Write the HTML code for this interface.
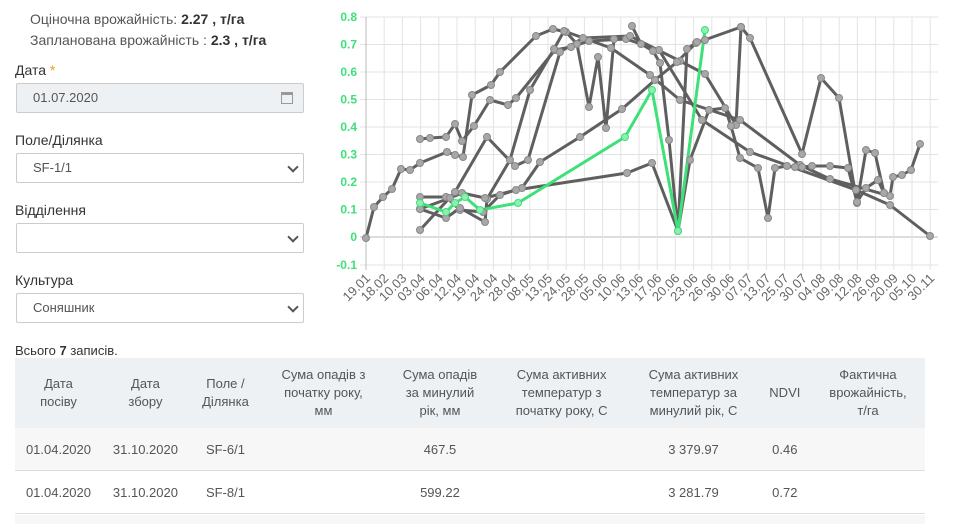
<!DOCTYPE html>
<html><head><meta charset="utf-8"><style>
html,body{margin:0;width:960px;height:524px;overflow:hidden;background:#fff;font-family:"Liberation Sans","DejaVu Sans",sans-serif;color:#333;position:relative}
.a{position:absolute;white-space:nowrap}
.inp{position:absolute;left:16px;width:288px;height:30px;border:1px solid #ccc;border-radius:2px;box-sizing:border-box;font-size:13px;color:#555;line-height:28px;padding-left:16px;background:#fff}
.lbl{font-size:14px;color:#333}
.chev{position:absolute;right:6px;top:9px;width:6px;height:6px;border-right:2px solid #555;border-bottom:2px solid #555;transform:rotate(45deg)}
table{position:absolute;left:15px;top:358px;width:910px;border-collapse:collapse;font-size:13px;color:#555}
th{background:#edf1f4;font-weight:normal;height:70px;text-align:center;padding:0 4px;line-height:18px}
td{height:42px;padding:0;text-align:center;border-bottom:1px solid #ddd}
tr.r1 td{background:#f7f7f7}
</style></head><body>
<div class="a" style="left:30px;top:11px;font-size:14px;color:#555">Оціночна врожайність: <b style="color:#333">2.27 , т/га</b></div>
<div class="a" style="left:30px;top:32px;font-size:14px;color:#555">Запланована врожайність : <b style="color:#333">2.3 , т/га</b></div>
<div class="a lbl" style="left:15px;top:62px">Дата<span style="color:#f39c12"> *</span></div>
<div class="inp" style="top:83px;background:#eef1f3">01.07.2020<span style="position:absolute;right:10px;top:8px;width:12px;height:12px;border:1px solid #999;border-top:3px solid #999;box-sizing:border-box"></span></div>
<div class="a lbl" style="left:15px;top:132px">Поле/Ділянка</div>
<div class="inp" style="top:153px">SF-1/1<span class="chev"></span></div>
<div class="a lbl" style="left:15px;top:202px">Відділення</div>
<div class="inp" style="top:223px"><span class="chev"></span></div>
<div class="a lbl" style="left:15px;top:272px">Культура</div>
<div class="inp" style="top:293px">Соняшник<span class="chev"></span></div>
<div class="a" style="left:15px;top:343px;font-size:13px">Всього <b>7</b> записів.</div>

<svg class="a" style="left:0;top:0" width="960" height="340" viewBox="0 0 960 340">
<g stroke="#e3e3e3" stroke-width="1">
<line x1="360" y1="17" x2="938" y2="17"/><line x1="360" y1="44.5" x2="938" y2="44.5"/><line x1="360" y1="72" x2="938" y2="72"/><line x1="360" y1="99.5" x2="938" y2="99.5"/><line x1="360" y1="127" x2="938" y2="127"/><line x1="360" y1="154.5" x2="938" y2="154.5"/><line x1="360" y1="182" x2="938" y2="182"/><line x1="360" y1="209.5" x2="938" y2="209.5"/><line x1="360" y1="265" x2="938" y2="265"/>
</g>
<line x1="360" y1="237" x2="938" y2="237" stroke="#bbb"/>
<g id="vg" stroke="#e3e3e3"></g>
<line x1="366" y1="17" x2="366" y2="270" stroke="#bbb"/>
<g fill="#3ee07a" font-size="12" font-weight="bold" text-anchor="end">
<text x="357" y="21">0.8</text><text x="357" y="48.5">0.7</text><text x="357" y="76">0.6</text><text x="357" y="103.5">0.5</text><text x="357" y="131">0.4</text><text x="357" y="158.5">0.3</text><text x="357" y="186">0.2</text><text x="357" y="213.5">0.1</text><text x="357" y="241">0</text><text x="357" y="269">-0.1</text>
</g>
<g id="xl" fill="#666" font-size="13" text-anchor="end"></g>
<g fill="none" stroke="#5f5f5f" stroke-width="3" stroke-linejoin="round">
<polyline points="366,238 374,207 383,197 392,189 401,169 410,170 420,163 447,152 455,155 463,157 472,95 491,85 500,72 536,36 553,29 566,32 577,44 589,107 598,57 606,128 614,39"/>
<polyline points="420,139 430,138 446,137 455,124 462,141 474,126 490,100 508,105 516,98 555,50 571,47 589,41 626,39 659,50 702,120 750,152 856,190 890,205 930,236"/>
<polyline points="420,230 455,192 487,137 515,166 528,160 560,52 583,38 630,36 680,61 705,74 736,125 741,27"/>
<polyline points="420,197 446,197 460,210 483,212 500,195 522,188 540,162 580,137 622,109 655,80 677,62 696,43 741,27 750,38 802,154 821,78 839,98 857,203 866,150 875,153 884,193"/>
<polyline points="420,209 446,218 460,208 485,222 487,199 510,160 530,90 554,49 564,31 611,48 650,75 680,100 740,120 800,165 830,179 890,196 893,177 902,175 911,170 920,144"/>
<polyline points="420,209 450,198 462,193 485,198 516,190 627,173 652,163 678,231 690,160 709,110 725,108 731,126 740,158 758,168 768,218 775,168 787,166 795,167 802,167 812,166 830,166 848,168 857,202 866,188 878,180 884,193"/>
<polyline points="632,26 641,44 653,51 660,63 669,140 678,231 687,49 697,42 705,40"/>
</g>
<polyline points="420,203 446,212 455,203 465,197 480,210 518,203 625,137 652,90 678,231 705,30" fill="none" stroke="#3ee07a" stroke-width="3" stroke-linejoin="round"/>
<g id="dots" fill="#a8a8a8" stroke="#888" stroke-width="1"></g>
</svg>

<table>
<tr><th>Дата<br>посіву</th><th>Дата<br>збору</th><th>Поле /<br>Ділянка</th><th>Сума опадів з<br>початку року,<br>мм</th><th>Сума опадів<br>за минулий<br>рік, мм</th><th>Сума активних<br>температур з<br>початку року, С</th><th>Сума активних<br>температур за<br>минулий рік, С</th><th>NDVI</th><th>Фактична<br>врожайність,<br>т/га</th></tr>
<tr class="r1"><td>01.04.2020</td><td>31.10.2020</td><td>SF-6/1</td><td></td><td>467.5</td><td></td><td>3 379.97</td><td>0.46</td><td></td></tr>
<tr><td>01.04.2020</td><td>31.10.2020</td><td>SF-8/1</td><td></td><td>599.22</td><td></td><td>3 281.79</td><td>0.72</td><td></td></tr>
</table>
<div class="a" style="left:15px;top:515px;width:910px;height:9px;background:#f7f7f7"></div>
<script>
var ns="http://www.w3.org/2000/svg";
var labs="19.01 18.02 10.03 03.04 06.04 12.04 19.04 24.04 28.04 08.05 13.05 24.05 28.05 05.06 10.06 13.06 17.06 20.06 23.06 26.06 30.06 07.07 13.07 25.07 30.07 04.08 09.08 12.08 26.08 20.09 05.10 30.11".split(" ");
var vg=document.getElementById("vg"),xl=document.getElementById("xl");
labs.forEach(function(l,i){var x=366+i*18.2;
var ln=document.createElementNS(ns,"line");ln.setAttribute("x1",x);ln.setAttribute("x2",x);ln.setAttribute("y1",17);ln.setAttribute("y2",270);vg.appendChild(ln);
var t=document.createElementNS(ns,"text");t.setAttribute("transform","translate("+(x+5)+",279) rotate(-45)");t.textContent=l;xl.appendChild(t);});
var d=document.getElementById("dots");
document.querySelectorAll("polyline").forEach(function(p){var g=p.getAttribute("stroke")=="#3ee07a";
p.getAttribute("points").trim().split(/\s+/).forEach(function(pt){var c=pt.split(",");var e=document.createElementNS(ns,"circle");e.setAttribute("cx",c[0]);e.setAttribute("cy",c[1]);e.setAttribute("r",3.5);if(g){e.setAttribute("fill","#8ef0b0");e.setAttribute("stroke","#3ee07a");}d.appendChild(e);});});
</script>
</body></html>
